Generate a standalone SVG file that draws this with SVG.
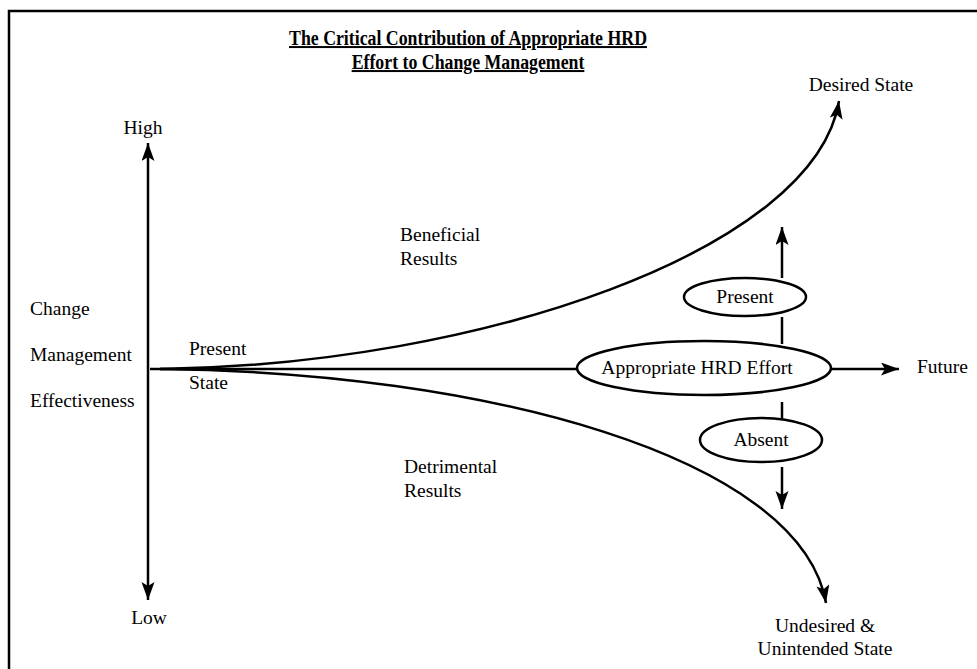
<svg xmlns="http://www.w3.org/2000/svg" width="977" height="669" viewBox="0 0 977 669">
<style>
text{font-family:"Liberation Serif","Times New Roman",serif;font-size:19.5px;fill:#000}
.title{font-weight:bold;font-size:20px;text-decoration:underline}
.c{text-anchor:middle}
.ln{fill:none;stroke:#000;stroke-width:2.5}
.el{fill:#fff;stroke:#000;stroke-width:2.5}
</style>
<defs>
<marker id="ah" markerUnits="userSpaceOnUse" markerWidth="20" markerHeight="14" refX="18" refY="6.5" orient="auto">
<path d="M0,0 L18,6.5 L0,13 L4,6.5 Z" fill="#000"/>
</marker>
</defs>
<rect width="977" height="669" fill="#fff"/>
<path d="M9,669 V11 H977" fill="none" stroke="#000" stroke-width="2.5"/>
<g id="title">
<text class="title c" transform="translate(468,45) scale(0.89,1)">The Critical Contribution of Appropriate HRD</text>
<text class="title c" transform="translate(468,69) scale(0.89,1)">Effort to Change Management</text>
</g>
<g id="connectors">
<line class="ln" x1="148" y1="370" x2="148" y2="143" marker-end="url(#ah)"/>
<line class="ln" x1="148" y1="370" x2="148" y2="600" marker-end="url(#ah)"/>
<line class="ln" x1="150" y1="369" x2="578" y2="369"/>
<line class="ln" x1="831" y1="369" x2="899" y2="369" marker-end="url(#ah)"/>
<path class="ln" d="M160,369 C480,365 815,250 839,101" marker-end="url(#ah)"/>
<path class="ln" d="M160,369 C480,372 800,455 826,603" marker-end="url(#ah)"/>
<line class="ln" x1="782" y1="344" x2="782" y2="317"/>
<line class="ln" x1="782" y1="278" x2="782" y2="227" marker-end="url(#ah)"/>
<line class="ln" x1="782" y1="402" x2="782" y2="419"/>
<line class="ln" x1="782" y1="467" x2="782" y2="509" marker-end="url(#ah)"/>
</g>
<g id="axis-labels">
<text class="c" x="143" y="134">High</text>
<text class="c" x="149" y="624">Low</text>
<text x="30" y="315">Change</text>
<text x="30" y="361">Management</text>
<text x="30" y="407">Effectiveness</text>
</g>
<g id="present-state">
<text x="189" y="355">Present</text>
<text x="189" y="389">State</text>
</g>
<g id="beneficial">
<text x="400" y="241">Beneficial</text>
<text x="400" y="265">Results</text>
</g>
<g id="detrimental">
<text x="404" y="473">Detrimental</text>
<text x="404" y="497">Results</text>
</g>
<g id="hrd-effort">
<ellipse class="el" cx="704" cy="368" rx="127" ry="27"/>
<text class="c" x="697" y="374">Appropriate HRD Effort</text>
</g>
<g id="present">
<ellipse class="el" cx="745" cy="297" rx="61" ry="19"/>
<text class="c" x="745" y="303">Present</text>
</g>
<g id="absent">
<ellipse class="el" cx="761" cy="440" rx="61" ry="22"/>
<text class="c" x="761" y="446">Absent</text>
</g>
<g id="future">
<text x="917" y="373">Future</text>
</g>
<g id="desired-state">
<text class="c" x="861" y="91">Desired State</text>
</g>
<g id="undesired-state">
<text class="c" x="825" y="632">Undesired &amp;</text>
<text class="c" x="825" y="655">Unintended State</text>
</g>
</svg>
